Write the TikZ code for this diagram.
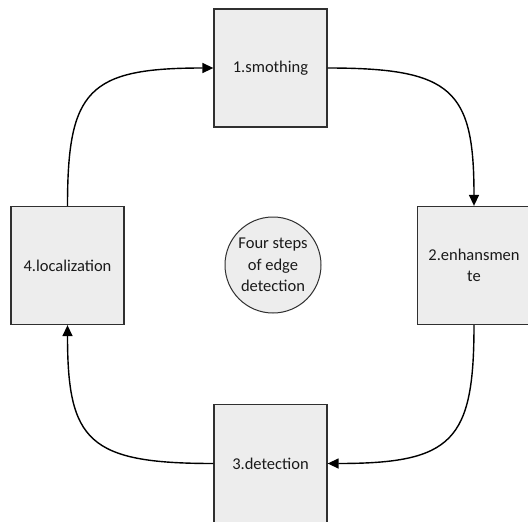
\documentclass[tikz,border=0pt]{standalone}
\usepackage{fontspec}
\setmainfont{Carlito}
\usetikzlibrary{arrows.meta}
\definecolor{boxfill}{HTML}{EDEDED}
\definecolor{boxline}{HTML}{303030}
\definecolor{txt}{HTML}{1A1A1A}
\begin{document}
\begin{tikzpicture}[x=1pt,y=-1pt,
  stepbox/.style={draw=boxline,fill=boxfill,line width=1.3pt,rectangle,
    minimum width=113pt,minimum height=118pt,inner sep=2pt,align=center,
    text=txt,font=\fontsize{16.5pt}{21.5pt}\selectfont},
  hub/.style={draw=boxline,fill=boxfill,line width=1pt,circle,minimum size=96pt,
    inner sep=0pt,align=center,text=txt,font=\fontsize{16.5pt}{21.5pt}\selectfont},
  conn/.style={draw=black,line width=1.4pt,-{Triangle[length=11pt,width=10pt]}}]
\useasboundingbox (0,0) rectangle (528,522);
\fill[white] (0,0) rectangle (528,522);
\node[stepbox] (b1) at (270.5,68) {1.smothing};
\node[stepbox] (b2) at (474,265.5) {2.enhansmen\\te};
\node[stepbox] (b3) at (270.5,463.5) {3.detection};
\node[stepbox] (b4) at (67.5,265.5) {4.localization};
\node[hub] (c) at (273,265) {Four steps\\of edge\\detection};
\draw[conn] (b1.east) .. controls +(125,0) and +(0,-116) .. (b2.north);
\draw[conn] (b2.south) .. controls +(0,116) and +(125,0) .. (b3.east);
\draw[conn] (b3.west) .. controls +(-125,0) and +(0,116) .. (b4.south);
\draw[conn] (b4.north) .. controls +(0,-116) and +(-125,0) .. (b1.west);
\end{tikzpicture}
\end{document}
